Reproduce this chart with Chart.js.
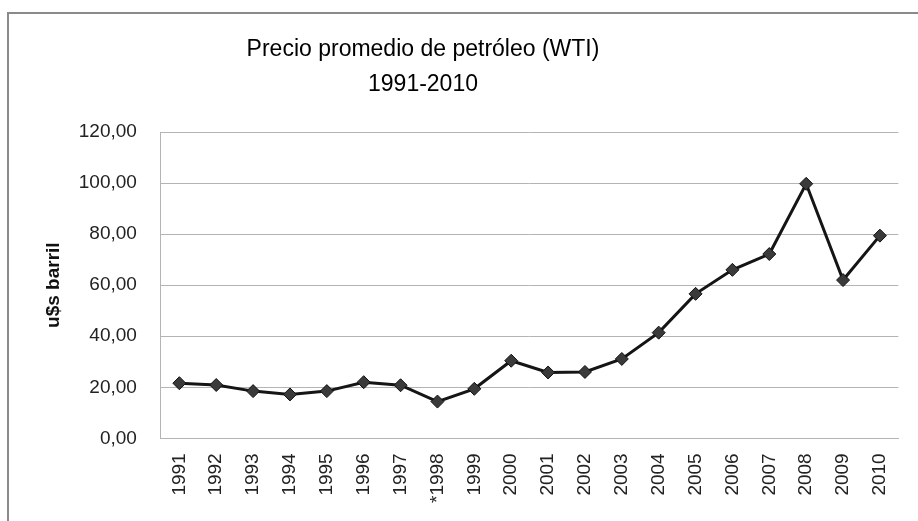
<!DOCTYPE html>
<html>
<head>
<meta charset="utf-8">
<script src="https://cdn.jsdelivr.net/npm/chart.js@4.4.1/dist/chart.umd.min.js"></script>
<style>
  body { margin: 0; overflow: hidden; background: #fff; }
  #wrap { position: relative; width: 918px; height: 521px; overflow: hidden; }
  #frame { position: absolute; left: 7px; top: 12px; width: 1000px; height: 600px; border: 2px solid #8a8a8a; }
  canvas { position: absolute; left: 0; top: 0; }
</style>
</head>
<body>
<div id="wrap">
  <div id="frame"></div>
  <canvas id="oilChart" width="918" height="521"></canvas>
</div>
<script>
// data (u$s por barril, WTI promedio anual)
const years = ['1991', '1992', '1993', '1994', '1995', '1996', '1997', '*1998', '1999', '2000',
               '2001', '2002', '2003', '2004', '2005', '2006', '2007', '2008', '2009', '2010'];
const prices = [21.6, 20.9, 18.5, 17.2, 18.5, 22.0, 20.8, 14.4, 19.4, 30.4,
                25.8, 26.0, 31.1, 41.4, 56.6, 66.0, 72.2, 99.7, 62.0, 79.4];
const titleLines = ['Precio promedio de petróleo (WTI)', '1991-2010'];
const yTitle = 'u$s barril';
const yMin = 0, yMax = 120, yStep = 20;

const ctx = document.getElementById('oilChart').getContext('2d');

// excel puts the title a bit left of the plot centre, so draw it by hand
const titlePlugin = {
  id: 'leftTitle',
  afterDraw(chart) {
    const c = chart.ctx;
    c.save();
    c.font = '23px "Liberation Sans", sans-serif';
    c.fillStyle = '#000';
    c.textAlign = 'center';
    c.textBaseline = 'middle';
    c.fillText(titleLines[0], 423, 50);
    c.fillText(titleLines[1], 423, 85);
    c.restore();
  }
};

new Chart(ctx, {
  type: 'line',
  data: {
    labels: years,
    datasets: [{
      data: prices,
      borderColor: '#151515',
      borderWidth: 3,
      tension: 0,
      pointStyle: 'rectRot',
      pointRadius: 6.5,
      pointBackgroundColor: '#3a3a3a',
      pointBorderColor: '#111',
      pointBorderWidth: 1
    }]
  },
  plugins: [titlePlugin],
  options: {
    responsive: false,
    animation: false,
    layout: { padding: { top: 132, left: 42, right: 11, bottom: 3 } },
    plugins: {
      legend: { display: false },
      tooltip: { enabled: false },
      title: { display: false }
    },
    scales: {
      x: {
        offset: true,
        grid: { display: false, drawTicks: false },
        border: { color: '#b4b4b4', width: 1 },
        ticks: {
          color: '#222',
          font: { family: 'Liberation Sans, sans-serif', size: 19 },
          minRotation: 90,
          maxRotation: 90,
          padding: 15,
          autoSkip: false
        }
      },
      y: {
        min: yMin,
        max: yMax,
        grid: { color: '#b4b4b4', lineWidth: 1, drawTicks: false },
        border: { color: '#b4b4b4', width: 1 },
        ticks: {
          stepSize: yStep,
          color: '#222',
          padding: 24,
          font: { family: 'Liberation Sans, sans-serif', size: 19 },
          callback: function(value) {
            return value.toFixed(2).replace('.', ',');
          }
        },
        title: {
          display: true,
          text: yTitle,
          color: '#111',
          font: { family: 'Liberation Sans, sans-serif', size: 19, weight: 'bold' },
          padding: { top: 0, bottom: -10 }
        }
      }
    }
  }
});
</script>
</body>
</html>
